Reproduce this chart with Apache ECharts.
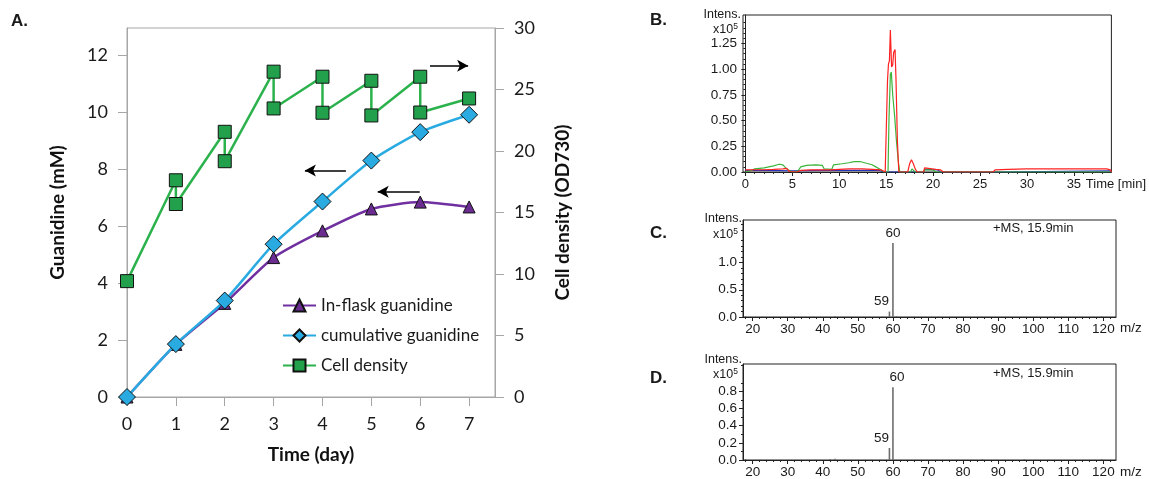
<!DOCTYPE html>
<html><head><meta charset="utf-8">
<script src="https://cdn.jsdelivr.net/npm/echarts@6/dist/echarts.min.js"></script>
<style>html,body{margin:0;padding:0;background:#fff}#c{width:1149px;height:479px}</style>
</head><body><div id="c"></div>
<script>
// ---------- Panel A data ----------
const days = [0, 1, 2, 3, 4, 5, 6, 7];
const inFlaskGuanidine = [0, 1.85, 3.29, 4.90, 5.84, 6.61, 6.85, 6.68];
const cumulativeGuanidine = [0, 1.86, 3.39, 5.37, 6.87, 8.31, 9.31, 9.92];
const cellDensityDay = [0, 1, 1, 2, 2, 3, 3, 4, 4, 5, 5, 6, 6, 7];
const cellDensityOD = [9.42, 17.62, 15.69, 21.56, 19.17, 26.45, 23.46, 26.04, 23.11, 25.71, 22.89, 26.04, 23.13, 24.27];
const legendNames = ['In-flask guanidine', 'cumulative guanidine', 'Cell density'];
const guanidineTicks = [0, 2, 4, 6, 8, 10, 12];
const odTicks = [0, 5, 10, 15, 20, 25, 30];

// ---------- Panel B data: chromatogram traces [time (min), intensity x10^5] ----------
const traceRed = [[0,0.02],[1,0.022],[2,0.022],[3,0.025],[4,0.03],[4.4,0.035],[4.7,0.005],[5.5,0.0],[5.9,0.015],[7,0.02],[9,0.02],[10,0.025],[11,0.03],[12.5,0.03],[13.5,0.025],[14.5,0.02],[14.9,0.0],[15.05,0.0],[15.15,0.9],[15.25,1.05],[15.35,1.08],[15.45,1.38],[15.58,1.02],[15.7,1.04],[15.8,1.16],[15.95,1.19],[16.05,0.9],[16.2,0.3],[16.35,0.0],[17.3,0.0],[17.5,0.08],[17.7,0.12],[17.9,0.08],[18.1,0.03],[18.3,0.0],[19.0,0.0],[19.1,0.04],[19.5,0.035],[20.3,0.025],[20.8,0.02],[21.1,0.0],[22.0,0.0],[22.1,0.015],[22.2,0.0],[26.4,0.0],[26.6,0.02],[28,0.025],[30,0.03],[35,0.03],[38.5,0.03],[38.9,0.02],[39,0.0]];
const traceGreen = [[0,0.0],[0.5,0.01],[1,0.03],[2,0.04],[3,0.06],[3.6,0.075],[4,0.07],[4.3,0.04],[4.6,0.02],[5,0.0],[5.6,0.01],[5.9,0.05],[6.5,0.065],[7.5,0.07],[8.2,0.065],[8.4,0.03],[9.2,0.025],[9.4,0.07],[10.3,0.08],[11,0.09],[11.6,0.1],[12.3,0.1],[12.9,0.085],[13.5,0.07],[13.9,0.05],[14.3,0.03],[14.8,0.0],[15.2,0.0],[15.3,0.5],[15.45,0.95],[15.55,0.97],[15.7,0.75],[15.9,0.55],[16.1,0.3],[16.3,0.1],[16.45,0.0],[17.6,0.0],[17.75,0.03],[17.95,0.03],[18.1,0.0],[19.0,0.0],[19.1,0.02],[20.0,0.02],[20.3,0.0],[39,0.0]];
const traceBlue = [[0,0.015],[2,0.015],[5,0.012],[8,0.015],[12,0.015],[14.3,0.015],[14.8,0.0],[15.6,0.0],[15.7,0.01],[15.8,0.0],[19.0,0.0],[19.1,0.025],[20.5,0.02],[20.8,0.0],[26.8,0.0],[27,0.012],[38.9,0.012],[39,0.0]];
const timeMajorTicks = [0, 5, 10, 15, 20, 25, 30, 35];
const intensBTicks = [0, 0.25, 0.5, 0.75, 1.0, 1.25];

// ---------- Panels C, D data: mass spectra [m/z, intensity x10^5] ----------
const mzC = [18, 43.5, 59, 60, 61, 119.5];
const intensC = [0.012, 0.012, 0.1, 1.36, 0.012, 0.012];
const mzD = [18, 42, 43.5, 59, 60, 85.5, 97.5, 119.5];
const intensD = [0.012, 0.01, 0.015, 0.14, 0.85, 0.008, 0.008, 0.01];
const mzMajorTicks = [20, 30, 40, 50, 60, 70, 80, 90, 100, 110, 120];
const intensCTicks = [0, 0.5, 1.0];
const intensDTicks = [0, 0.2, 0.4, 0.6, 0.8];

// minor tick positions
function steps(a, b, s, skip) { const r = []; for (let v = a; v <= b + 1e-9; v += s) { const x = Math.round(v * 1000) / 1000; if (!skip || Math.abs(x / skip - Math.round(x / skip)) > 1e-6) r.push(x); } return r; }
const timeMinorTicks = steps(1, 38, 1, 5);
const mzMinorTicks = steps(18, 122, 2, 10);

const fA = 'Lato';
const fB = 'Liberation Sans';
const gray = '#a6a6a6';
const ink = '#1a1a1a';

const chart = echarts.init(document.getElementById('c'));

function msX(grid, main) {
  return main ? {
    gridIndex: grid, type: 'value', min: 17.25, max: 123.6, position: 'bottom',
    axisLine: { onZero: false, lineStyle: { color: '#222', width: 1 } },
    axisTick: { customValues: mzMajorTicks, length: 4, lineStyle: { color: '#222' } },
    axisLabel: { customValues: mzMajorTicks, fontFamily: fB, fontSize: 13.5, color: ink, margin: 5 },
    splitLine: { show: false }
  } : {
    gridIndex: grid, type: 'value', min: 17.25, max: 123.6, position: 'bottom',
    axisLine: { show: false, onZero: false },
    axisTick: { customValues: mzMinorTicks, length: 2, lineStyle: { color: '#222' } },
    axisLabel: { show: false }, splitLine: { show: false }
  };
}
function msY(grid, max, ticks, minor, dec) {
  return [{
    gridIndex: grid, type: 'value', min: 0, max: max, position: 'left',
    axisLine: { show: true, lineStyle: { color: '#222' } },
    axisTick: { show: true, customValues: ticks, length: 4, lineStyle: { color: '#222' } },
    axisLabel: { customValues: ticks, fontFamily: fB, fontSize: 13.5, color: ink, margin: 6, formatter: v => v.toFixed(dec) },
    splitLine: { show: false }
  }, {
    gridIndex: grid, type: 'value', min: 0, max: max, position: 'left',
    axisLine: { show: false }, axisLabel: { show: false }, splitLine: { show: false },
    axisTick: { show: true, customValues: minor, length: 2, lineStyle: { color: '#222' } }
  }];
}
function peakItems(mz, intens, offs) {
  return mz.map((m, i) => {
    const o = offs[m];
    return o ? { value: [m, intens[i]], label: { show: true, position: 'top', distance: 3, offset: o, formatter: String(m), fontFamily: fB, fontSize: 13.5, color: ink } }
             : { value: [m, intens[i]] };
  });
}
function arrow(from, to) { return [{ coord: from }, { coord: to }]; }
function gtext(x, y, text, opt) {
  return Object.assign({ type: 'text', x: x, y: y, style: Object.assign({ text: text, fontFamily: fB, fontSize: 12.5, fill: ink, align: 'left', verticalAlign: 'middle' }, opt || {}) });
}
const supRich = { s: { fontFamily: fB, fontSize: 8.5, fill: ink, verticalAlign: 'top', padding: [0, 0, 6, 0] } };

const option = {
  animation: false,
  backgroundColor: '#fff',
  grid: [
    { left: 127, top: 28, width: 368, height: 369, show: true, borderColor: gray, borderWidth: 1 },
    { left: 743, top: 15, width: 373, height: 157, show: true, borderColor: '#222', borderWidth: 1 },
    { left: 743, top: 220, width: 373, height: 97, show: true, borderColor: '#222', borderWidth: 1 },
    { left: 743, top: 364, width: 373, height: 96, show: true, borderColor: '#222', borderWidth: 1 }
  ],
  legend: {
    data: legendNames, orient: 'vertical', left: 277, top: 292, itemWidth: 33, itemHeight: 15, itemGap: 13,
    textStyle: { fontFamily: fA, fontSize: 17, color: ink }, selectedMode: false
  },
  xAxis: [
    { gridIndex: 0, type: 'value', min: 0, max: 7.53, position: 'bottom',
      axisLine: { onZero: false, lineStyle: { color: gray, width: 1 } },
      axisTick: { customValues: days, length: 9, lineStyle: { color: gray } },
      axisLabel: { customValues: days, fontFamily: fA, fontSize: 18, color: ink, margin: 18 },
      splitLine: { show: false },
      name: 'Time (day)', nameLocation: 'middle', nameGap: 48,
      nameTextStyle: { fontFamily: fA, fontWeight: 'bold', fontSize: 19, color: '#111' } },
    { gridIndex: 1, type: 'value', min: -0.25, max: 39, position: 'bottom',
      axisLine: { onZero: false, lineStyle: { color: '#222' } },
      axisTick: { customValues: timeMajorTicks, length: 4, lineStyle: { color: '#222' } },
      axisLabel: { customValues: timeMajorTicks.concat([39]), fontFamily: fB, fontSize: 13, color: ink, margin: 6,
        formatter: v => v === 39 ? '{t|Time [min]}' : String(v),
        rich: { t: { fontFamily: fB, fontSize: 13, color: ink, padding: [0, 0, 0, 9] } } },
      splitLine: { show: false } },
    { gridIndex: 1, type: 'value', min: -0.25, max: 39, position: 'bottom',
      axisLine: { show: false, onZero: false },
      axisTick: { customValues: timeMinorTicks, length: 2, lineStyle: { color: '#222' } },
      axisLabel: { show: false }, splitLine: { show: false } },
    msX(2, true), msX(2, false), msX(3, true), msX(3, false)
  ],
  yAxis: [
    { gridIndex: 0, type: 'value', min: 0, max: 12.97, position: 'left',
      axisLine: { show: true, lineStyle: { color: gray } },
      axisTick: { show: true, customValues: guanidineTicks, length: 9, lineStyle: { color: gray } },
      axisLabel: { customValues: guanidineTicks, fontFamily: fA, fontSize: 18, color: ink, margin: 19 },
      splitLine: { show: false },
      name: 'Guanidine (mM)', nameLocation: 'middle', nameGap: 60, nameRotate: 90,
      nameTextStyle: { fontFamily: fA, fontWeight: 'bold', fontSize: 19, color: '#111' } },
    { gridIndex: 0, type: 'value', min: 0, max: 30, position: 'right',
      axisLine: { show: true, lineStyle: { color: gray } },
      axisTick: { show: true, customValues: odTicks, length: 9, lineStyle: { color: gray } },
      axisLabel: { customValues: odTicks, fontFamily: fA, fontSize: 18, color: ink, margin: 19 },
      splitLine: { show: false },
      name: 'Cell density (OD730)', nameLocation: 'middle', nameGap: 58, nameRotate: 90,
      nameTextStyle: { fontFamily: fA, fontWeight: 'bold', fontSize: 19, color: '#111' } },
    ...msY(1, 1.525, intensBTicks, steps(0.05, 1.5, 0.05, 0.25), 2),
    ...msY(2, 1.78, intensCTicks, steps(0.1, 1.7, 0.1, 0.5), 1),
    ...msY(3, 1.12, intensDTicks, steps(0.1, 1.1, 0.1, 0.2), 1)
  ],
  series: [
    { name: legendNames[0], type: 'line', xAxisIndex: 0, yAxisIndex: 0, z: 3,
      data: days.map((d, i) => [d, inFlaskGuanidine[i]]), smooth: 0.2,
      symbol: 'triangle', symbolSize: 12,
      lineStyle: { color: '#7030a0', width: 2.5 },
      itemStyle: { color: '#6a2c91', borderColor: '#111', borderWidth: 1 } },
    { name: legendNames[1], type: 'line', xAxisIndex: 0, yAxisIndex: 0, z: 4,
      data: days.map((d, i) => [d, cumulativeGuanidine[i]]), smooth: 0.2,
      symbol: 'diamond', symbolSize: 17,
      lineStyle: { color: '#29abe2', width: 2.5 },
      itemStyle: { color: '#29abe2', borderColor: '#111', borderWidth: 1 },
      markLine: { silent: true, symbol: ['none', 'arrow'], symbolSize: [9, 11], label: { show: false },
        lineStyle: { color: '#000', width: 1.6, type: 'solid' },
        data: [arrow([4.48, 7.96], [3.64, 7.96]), arrow([5.99, 7.21], [5.13, 7.21])] } },
    { name: legendNames[2], type: 'line', xAxisIndex: 0, yAxisIndex: 1, z: 5,
      data: cellDensityDay.map((d, i) => [d, cellDensityOD[i]]),
      symbol: 'rect', symbolSize: 13,
      lineStyle: { color: '#2bb24c', width: 2.5 },
      itemStyle: { color: '#22a04b', borderColor: '#111', borderWidth: 1 },
      markLine: { silent: true, symbol: ['none', 'arrow'], symbolSize: [9, 11], label: { show: false },
        lineStyle: { color: '#000', width: 1.6, type: 'solid' },
        data: [arrow([6.2, 26.94], [6.98, 26.94])] } },
    { type: 'line', xAxisIndex: 1, yAxisIndex: 2, data: traceBlue, showSymbol: false, symbol: 'none',
      lineStyle: { color: '#2233bb', width: 1.2 } },
    { type: 'line', xAxisIndex: 1, yAxisIndex: 2, data: traceGreen, showSymbol: false, symbol: 'none',
      lineStyle: { color: '#3cb43c', width: 1.2 } },
    { type: 'line', xAxisIndex: 1, yAxisIndex: 2, data: traceRed, showSymbol: false, symbol: 'none',
      lineStyle: { color: '#ff2222', width: 1.2 } },
    { type: 'bar', xAxisIndex: 3, yAxisIndex: 4, barWidth: 1.6, itemStyle: { color: '#6e6e6e' },
      data: peakItems(mzC, intensC, { 59: [-8, 0], 60: [0, 0] }) },
    { type: 'bar', xAxisIndex: 5, yAxisIndex: 6, barWidth: 1.6, itemStyle: { color: '#6e6e6e' },
      data: peakItems(mzD, intensD, { 59: [-8, 0], 60: [4, 0] }) }
  ],
  graphic: [
    gtext(11, 21, 'A.', { fontWeight: 'bold', fontSize: 17 }),
    gtext(650, 20, 'B.', { fontWeight: 'bold', fontSize: 17 }),
    gtext(650, 233, 'C.', { fontWeight: 'bold', fontSize: 17 }),
    gtext(650, 378, 'D.', { fontWeight: 'bold', fontSize: 17 }),
    gtext(741, 15, 'Intens.', { align: 'right' }),
    gtext(738, 30, 'x10{s|5}', { align: 'right', rich: supRich }),
    gtext(742, 219, 'Intens.', { align: 'right' }),
    gtext(738, 235, 'x10{s|5}', { align: 'right', rich: supRich }),
    gtext(742, 360, 'Intens.', { align: 'right' }),
    gtext(738, 375, 'x10{s|5}', { align: 'right', rich: supRich }),
    gtext(993, 228, '+MS, 15.9min', { fontSize: 13 }),
    gtext(993, 373, '+MS, 15.9min', { fontSize: 13 }),
    gtext(1120, 328, 'm/z', { fontSize: 13.5 }),
    gtext(1120, 472, 'm/z', { fontSize: 13.5 })
  ]
};
chart.setOption(option);
</script>
</body></html>
